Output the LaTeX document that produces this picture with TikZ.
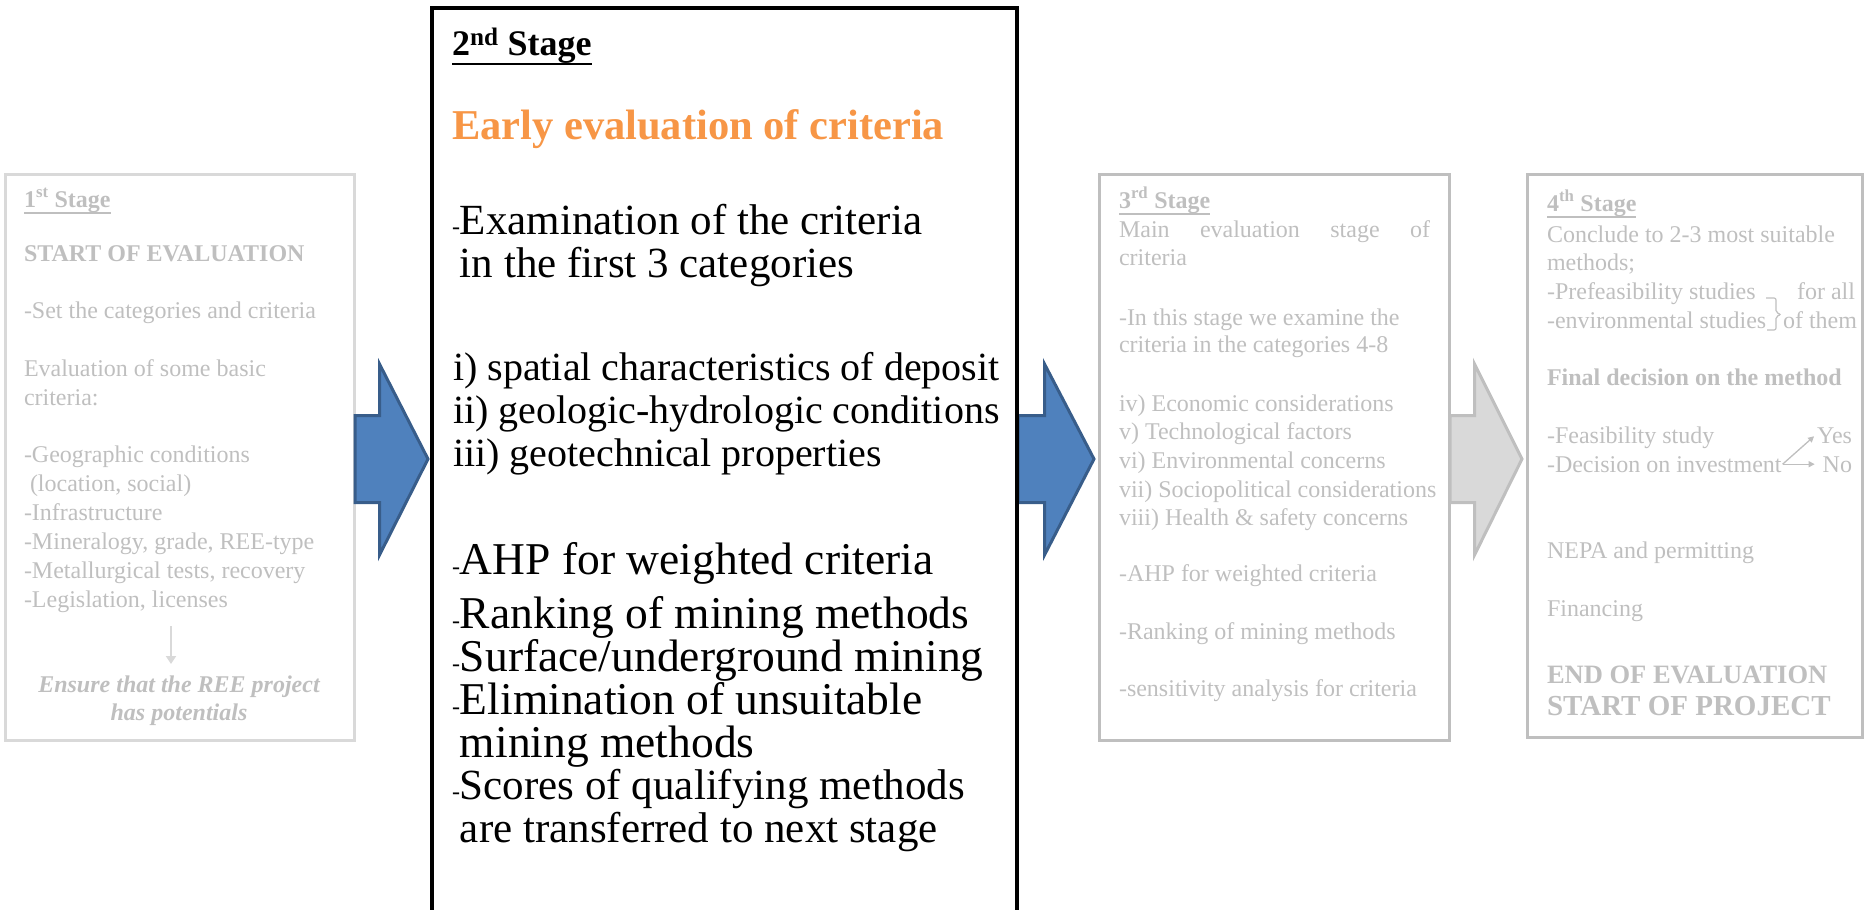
\documentclass[tikz,border=0pt]{standalone}
\usepackage{fontspec}
\setmainfont{Liberation Serif}
\usetikzlibrary{arrows.meta}

\definecolor{fadedText}{HTML}{BFBFBF}
\definecolor{fadedEdge}{HTML}{BFBFBF}
\definecolor{softEdge}{HTML}{D9D9D9}
\definecolor{arrowBlue}{HTML}{4F81BD}
\definecolor{arrowBlueEdge}{HTML}{385D8A}
\definecolor{arrowGrey}{HTML}{D9D9D9}
\definecolor{headOrange}{HTML}{F79646}

% underlined stage heading, rule just below the descenders
\newcommand\stagehead[1]{\setbox0=\hbox{#1}\rlap{\rule[-0.29em]{\wd0}{0.07em}}\box0}
% the short leading dash used in the second stage
\newcommand\smalldash{{\fontsize{24}{24}\selectfont -}}

\begin{document}
\begin{tikzpicture}[x=1pt,y=-1pt,
  every node/.style={inner sep=0pt,outer sep=0pt},
  stagebox/.style={draw, line width=3pt, anchor=north west},
  faded/.style={anchor=base west, text=fadedText, font=\fontsize{24}{28}\selectfont},
  fadedbold/.style={faded, font=\fontsize{24}{28}\selectfont\bfseries},
  fadedright/.style={faded, anchor=base east},
  main/.style={anchor=base west, text=black, font=\fontsize{43}{45}\selectfont},
  mainlist/.style={main, font=\fontsize{40}{42}\selectfont},
  mainlow/.style={main, font=\fontsize{45.5}{47}\selectfont},
  mainend/.style={main, font=\fontsize{43}{45}\selectfont},
  blockarrow/.style={line width=3pt, line join=miter},
  smallarrow/.style={fadedText, line width=1.3pt, -{Triangle[length=6pt,width=6pt]}},
  ]
\useasboundingbox (0,0) rectangle (1866,910);
\clip (0,0) rectangle (1866,910);

% ---------- stage frames ----------
\node[stagebox, draw=softEdge, minimum width=348.5pt, minimum height=566.5pt] (s1) at (5.5,174) {};
\node[stagebox, draw=fadedEdge, minimum width=350.5pt, minimum height=566.5pt] (s3) at (1099,174) {};
\node[stagebox, draw=fadedEdge, minimum width=334.5pt, minimum height=563pt] (s4) at (1527.5,174) {};

% ---------- block arrows between the stages ----------
\draw[blockarrow, fill=arrowBlue, draw=arrowBlueEdge]
  (355,415.5) -- (379.5,415.5) -- (379.5,364) -- (428,459) -- (379.5,555) -- (379.5,502.5) -- (355,502.5) -- cycle;
\draw[blockarrow, fill=arrowBlue, draw=arrowBlueEdge]
  (1018,415.5) -- (1044.5,415.5) -- (1044.5,364) -- (1094,459) -- (1044.5,555) -- (1044.5,502.5) -- (1018,502.5) -- cycle;
\draw[blockarrow, fill=arrowGrey, draw=fadedEdge]
  (1450,415.5) -- (1474.5,415.5) -- (1474.5,364) -- (1522,459) -- (1474.5,555) -- (1474.5,502.5) -- (1450,502.5) -- cycle;

\node[stagebox, draw=black, line width=4pt, minimum width=584.5pt, minimum height=940pt] (s2) at (432,8) {};

% ---------- 1st stage ----------
\node[fadedbold] (s1t) at (24,207) {\stagehead{1\textsuperscript{st} Stage}};
\node[fadedbold] (s1a) at (24,261) {START OF EVALUATION};
\node[faded] (s1b) at (24,318.5) {-Set the categories and criteria};
\node[faded] (s1c) at (24,376.5) {Evaluation of some basic};
\node[faded] (s1d) at (24,405) {criteria:};
\node[faded] (s1e) at (24,462) {-Geographic conditions};
\node[faded] (s1f) at (24,491) {\hspace*{6pt}(location, social)};
\node[faded] (s1g) at (24,520) {-Infrastructure};
\node[faded] (s1h) at (24,549) {-Mineralogy, grade, REE-type};
\node[faded] (s1i) at (24,578) {-Metallurgical tests, recovery};
\node[faded] (s1j) at (24,607) {-Legislation, licenses};
\coordinate (down1) at (171,626);
\coordinate (down2) at (171,664);
\draw[softEdge, line width=2pt, -{Triangle[length=8pt,width=10pt]}] (down1) -- (down2);
\node[fadedbold, anchor=base, font=\fontsize{24}{28}\selectfont\bfseries\itshape] (s1k) at (179,692.5) {Ensure that the REE project};
\node[fadedbold, anchor=base, font=\fontsize{24}{28}\selectfont\bfseries\itshape] (s1l) at (179,720) {has potentials};

% ---------- 2nd stage ----------
\node[main, font=\fontsize{36}{40}\selectfont\bfseries] (s2t) at (452,55) {\stagehead{2\textsuperscript{nd} Stage}};
\node[main, text=headOrange, font=\fontsize{42.5}{46}\selectfont\bfseries] (s2h) at (452,139.5) {Early evaluation of criteria};
\node[main] (s2a) at (452,234) {\smalldash Examination of the criteria};
\node[main] (s2b) at (452,277) {\phantom{\smalldash}in the first 3 categories};
\node[mainlist] (s2c) at (453,380) {i) spatial characteristics of deposit};
\node[mainlist] (s2d) at (453,423) {ii) geologic-hydrologic conditions};
\node[mainlist] (s2e) at (453,466) {iii) geotechnical properties};
\node[mainlow] (s2f) at (452,574.5) {\smalldash AHP for weighted criteria};
\node[mainlow] (s2g) at (452,628.5) {\smalldash Ranking of mining methods};
\node[mainlow] (s2i) at (452,671.5) {\smalldash Surface/underground mining};
\node[mainlow] (s2j) at (452,714.5) {\smalldash Elimination of unsuitable};
\node[mainlow] (s2k) at (452,757.5) {\phantom{\smalldash}mining methods};
\node[mainend] (s2l) at (452,799.5) {\smalldash Scores of qualifying methods};
\node[mainend] (s2m) at (452,842.5) {\phantom{\smalldash}are transferred to next stage};

% ---------- 3rd stage ----------
\node[fadedbold] (s3t) at (1119,208) {\stagehead{3\textsuperscript{rd} Stage}};
\node[faded] (s3a) at (1119,237) {\hbox to 311pt{Main\hfill evaluation\hfill stage\hfill of}};
\node[faded] (s3b) at (1119,265) {criteria};
\node[faded] (s3c) at (1119,325) {-In this stage we examine the};
\node[faded] (s3d) at (1119,352) {criteria in the categories 4-8};
\node[faded] (s3e) at (1119,411) {iv) Economic considerations};
\node[faded] (s3f) at (1119,439.5) {v) Technological factors};
\node[faded] (s3g) at (1119,468) {vi) Environmental concerns};
\node[faded] (s3h) at (1119,497) {vii) Sociopolitical considerations};
\node[faded] (s3i) at (1119,525) {viii) Health \& safety concerns};
\node[faded] (s3j) at (1119,581.5) {-AHP for weighted criteria};
\node[faded] (s3k) at (1119,639.5) {-Ranking of mining methods};
\node[faded] (s3l) at (1119,696.5) {-sensitivity analysis for criteria};

% ---------- 4th stage ----------
\node[fadedbold] (s4t) at (1547,211) {\stagehead{4\textsuperscript{th} Stage}};
\node[faded] (s4a) at (1547,242) {Conclude to 2-3 most suitable};
\node[faded] (s4b) at (1547,270) {methods;};
\node[faded] (s4c) at (1547,299) {-Prefeasibility studies};
\node[fadedright] (s4c2) at (1855,299) {for all};
\node[faded] (s4d) at (1547,328) {-environmental studies};
\node[fadedright] (s4d2) at (1857,328) {of them};
\draw[fadedText, line width=1.2pt, rounded corners=2pt]
  (1766,298) -- (1776,298) -- (1776,312.5) -- (1781,314.5) -- (1776,316.5) -- (1776,330) -- (1767,330);
\node[fadedbold] (s4e) at (1547,385) {Final decision on the method};
\node[faded] (s4f) at (1547,443) {-Feasibility study};
\node[fadedright] (yes) at (1852,443) {Yes};
\node[faded] (s4g) at (1547,472) {-Decision on investment};
\node[fadedright] (no) at (1852,472) {No};
\draw[smallarrow] ([xshift=1pt]s4g.east) -- ([xshift=-3pt,yshift=-1pt]yes.west);
\draw[smallarrow] ([xshift=1pt]s4g.east) -- ([xshift=-8pt]s4g.east -| no.west);
\node[faded] (s4h) at (1547,558) {NEPA and permitting};
\node[faded] (s4i) at (1547,616) {Financing};
\node[fadedbold, font=\fontsize{26.5}{30}\selectfont\bfseries] (s4j) at (1547,683.5) {END OF EVALUATION};
\node[fadedbold, font=\fontsize{29}{32}\selectfont\bfseries] (s4k) at (1547,715) {START OF PROJECT};
\end{tikzpicture}
\end{document}
